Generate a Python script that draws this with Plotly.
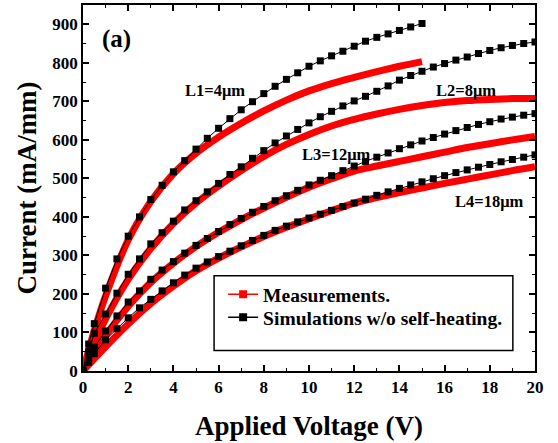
import plotly.graph_objects as go

# ---------------- data ----------------
V_sim_L1 = [0, 0.25, 0.5, 1.0, 1.5, 2.0, 2.5, 3.0, 3.5, 4.0, 4.5, 5.0, 5.5, 6.0, 6.5, 7.0, 7.5,
            8.0, 8.5, 9.0, 9.5, 10.0, 10.5, 11.0, 11.5, 12.0, 12.5, 13.0, 13.5, 14.0, 14.5, 15.0]
V_sim = V_sim_L1 + [15.5, 16.0, 16.5, 17.0, 17.5, 18.0, 18.5, 19.0, 19.5, 20.0]

sim_L1 = [0, 70, 123, 215, 291, 350, 400, 445, 482, 517, 546, 576, 604, 630, 655, 678, 699,
          720, 739, 757, 774, 791, 805, 818, 830, 843, 856, 866, 875, 884, 893, 902]
sim_L2 = [0, 50, 98, 148, 202, 251, 291, 330, 359, 389, 418, 442, 465, 487, 510, 530, 552,
          572, 592, 610, 627, 644, 660, 674, 688, 701, 713, 726, 740, 755, 767, 778,
          789, 798, 807, 815, 824, 832, 839, 845, 850, 854]
sim_L3 = [0, 32, 62, 104, 143, 179, 208, 238, 262, 284, 306, 326, 344, 362, 380, 396, 412,
          427, 442, 455, 469, 483, 495, 507, 520, 532, 544, 555, 566, 577, 587, 597,
          606, 615, 624, 632, 640, 647, 654, 659, 664, 668]
sim_L4 = [0, 22, 45, 81, 110, 138, 164, 186, 208, 229, 249, 267, 283, 297, 311, 325, 339,
          352, 365, 376, 387, 397, 407, 417, 427, 436, 446, 456, 465, 474, 483, 491,
          499, 507, 515, 522, 529, 536, 543, 549, 555, 561]

V_meas_L1 = [0, 0.5, 1, 2, 3, 4, 5, 6, 7, 8, 9, 10, 11, 12, 13, 14, 15]
V_meas = V_meas_L1 + [16, 17, 18, 19, 20]

meas_L1 = [0, 105, 195, 340, 440, 512, 565, 607, 643, 675, 703, 727, 746, 762, 777, 791, 803]
meas_L2 = [0, 70, 135, 238, 318, 383, 436, 480, 520, 557, 588, 614, 636, 653, 667, 679, 689,
           697, 702, 705, 707, 707]
meas_L3 = [0, 45, 92, 168, 230, 280, 323, 360, 393, 423, 451, 477, 499, 519, 532, 544, 556,
           568, 580, 590, 600, 609]
meas_L4 = [0, 32, 63, 122, 175, 220, 260, 293, 322, 349, 373, 395, 416, 436, 450, 463, 475,
           487, 498, 509, 520, 530]

curve_labels = ["L1=4\u03bcm", "L2=8\u03bcm", "L3=12\u03bcm", "L4=18\u03bcm"]
label_x = [5.85, 16.95, 11.2, 18.0]
label_y = [729, 729, 561, 439]

legend_names = ["Measurements.", "Simulations w/o self-heating."]
x_title = "Applied Voltage (V)"
y_title = "Current (mA/mm)"
panel_label = "(a)"

# ---------------- figure ----------------
FONT = "Liberation Serif"
RED = "#ff0000"
fig = go.Figure()

meas_sets = [(V_meas_L1, meas_L1), (V_meas, meas_L2), (V_meas, meas_L3), (V_meas, meas_L4)]
for vx, vy in meas_sets:
    fig.add_trace(go.Scatter(x=vx, y=vy, mode="lines", line=dict(color=RED, width=7, shape="spline"),
                             showlegend=False, hoverinfo="skip"))

sim_sets = [(V_sim_L1, sim_L1), (V_sim, sim_L2), (V_sim, sim_L3), (V_sim, sim_L4)]
for vx, vy in sim_sets:
    fig.add_trace(go.Scatter(x=vx, y=vy, mode="lines+markers",
                             line=dict(color="black", width=1),
                             marker=dict(symbol="square", size=7, color="black"),
                             showlegend=False))

# legend-only entries (one legend each, to control the row spacing)
fig.add_trace(go.Scatter(x=[None], y=[None], mode="lines+markers", name="<b>%s</b>" % legend_names[0],
                         line=dict(color=RED, width=1.5),
                         marker=dict(symbol="square", size=8, color=RED), legend="legend"))
fig.add_trace(go.Scatter(x=[None], y=[None], mode="lines+markers", name="<b>%s</b>" % legend_names[1],
                         line=dict(color="black", width=1.5),
                         marker=dict(symbol="square", size=8, color="black"), legend="legend2"))

for t, xx, yy in zip(curve_labels, label_x, label_y):
    fig.add_annotation(x=xx, y=yy, text="<b>%s</b>" % t, showarrow=False,
                       font=dict(family=FONT, size=16.5, color="black"))
fig.add_annotation(x=1.5, y=861, text="<b>%s</b>" % panel_label, showarrow=False,
                   font=dict(family=FONT, size=25, color="black"))

# legend box
fig.add_shape(type="rect", xref="paper", yref="paper", x0=0.290, x1=0.951, y0=0.056, y1=0.260,
              line=dict(color="black", width=1.5), fillcolor="rgba(0,0,0,0)")

axis_common = dict(showline=True, linecolor="black", linewidth=1.5, mirror="allticks",
                   ticks="inside", ticklen=6, tickwidth=1.5, tickcolor="black",
                   showgrid=False, zeroline=False, automargin=False,
                   tickfont=dict(family=FONT, size=17, color="black"))

fig.update_xaxes(range=[0, 20], dtick=2, tick0=0,
                 minor=dict(dtick=1, ticks="inside", ticklen=3, tickwidth=1.2, tickcolor="black"),
                 title=dict(text="<b>%s</b>" % x_title, font=dict(family=FONT, size=27, color="black"),
                            standoff=20),
                 tickprefix="<b>", ticksuffix="</b>", **axis_common)
fig.update_yaxes(range=[0, 950], dtick=100, tick0=0,
                 minor=dict(dtick=50, ticks="inside", ticklen=3, tickwidth=1.2, tickcolor="black"),
                 title=dict(text="<b>%s</b>" % y_title, font=dict(family=FONT, size=27, color="black"),
                            standoff=8),
                 tickprefix="<b>", ticksuffix="</b>", **axis_common)

leg_common = dict(xanchor="left", yanchor="middle", bgcolor="rgba(0,0,0,0)", borderwidth=0,
                  font=dict(family=FONT, size=19.5, color="black"), itemwidth=30)
fig.update_layout(width=558, height=443, margin=dict(l=83, r=23, t=5, b=72),
                  plot_bgcolor="white", paper_bgcolor="white",
                  legend=dict(x=0.31, y=0.2085, **leg_common),
                  legend2=dict(x=0.31, y=0.1458, **leg_common),
                  font=dict(family=FONT))

fig.write_html("out.html", config={"displayModeBar": False},
               post_script="document.body.style.margin='0';document.body.style.overflow='hidden';")
